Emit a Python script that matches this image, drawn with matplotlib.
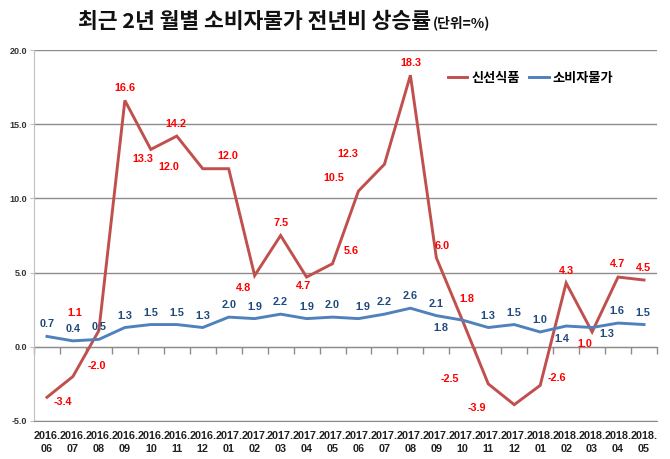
import matplotlib
matplotlib.use("Agg")
import matplotlib.pyplot as plt
import numpy as np

plt.rcParams['font.family'] = ['Noto Sans CJK KR', 'DejaVu Sans']

months = ["2016.\n06", "2016.\n07", "2016.\n08", "2016.\n09", "2016.\n10", "2016.\n11",
          "2016.\n12", "2017.\n01", "2017.\n02", "2017.\n03", "2017.\n04", "2017.\n05",
          "2017.\n06", "2017.\n07", "2017.\n08", "2017.\n09", "2017.\n10", "2017.\n11",
          "2017.\n12", "2018.\n01", "2018.\n02", "2018.\n03", "2018.\n04", "2018.\n05"]
fresh = [-3.4, -2.0, 1.1, 16.6, 13.3, 14.2, 12.0, 12.0, 4.8, 7.5, 4.7, 5.6,
         10.5, 12.3, 18.3, 6.0, 1.8, -2.5, -3.9, -2.6, 4.3, 1.0, 4.7, 4.5]
cpi = [0.7, 0.4, 0.5, 1.3, 1.5, 1.5, 1.3, 2.0, 1.9, 2.2, 1.9, 2.0,
       1.9, 2.2, 2.6, 2.1, 1.8, 1.3, 1.5, 1.0, 1.4, 1.3, 1.6, 1.5]
series_names = ["신선식품", "소비자물가"]
title_main = "최근 2년 월별 소비자물가 전년비 상승률"
title_unit = "(단위=%)"
yticks = [-5.0, 0.0, 5.0, 10.0, 15.0, 20.0]

# label offsets in pixels (dx right, dy down)
red_off = [(16, 5), (24, -10), (-24, -17), (0, -12), (-8, 10), (-1, -12), (-34, -2), (-1, -13),
           (-11, 12), (0, -13), (-3, 9), (19, -13), (-25, -13), (-37, -10), (0, -12), (6, -12),
           (5, -21), (-38, -5), (-37, 3), (17, -7), (0, -12), (-7, 12), (-1, -13), (-1, -12)]
blue_off = [(0, -12)] * 24
blue_off[12] = (4, -12)
blue_off[16] = (-21, 8)
blue_off[20] = (-4, 13)
blue_off[21] = (15, 6)
blue_off[22] = (-1, -12)
blue_off[23] = (-1, -12)

W, H = 670, 459
fig = plt.figure(figsize=(W / 100, H / 100), dpi=100)
ax = fig.add_axes([34 / W, 1 - 421 / H, (657 - 34) / W, (421 - 50) / H])

red = '#C0504D'
blue = '#4F81BD'
grid_c = '#8C8C8C'

x = np.arange(len(months))
ax.plot(x, fresh, color=red, lw=2.1, label=series_names[0], solid_joinstyle='miter', zorder=3)
ax.plot(x, cpi, color=blue, lw=2.1, label=series_names[1], zorder=3)

ax.set_xlim(-0.5, len(months) - 0.5)
ax.set_ylim(-5, 20)
ax.set_yticks(yticks)
ax.set_yticklabels([f"{v:.1f}" for v in yticks], fontsize=6.5, fontweight='bold',
                   color='#333333', family=['Liberation Sans', 'DejaVu Sans'])
ax.yaxis.grid(True, color=grid_c, lw=1.0, zorder=0)
ax.set_axisbelow(True)
ax.tick_params(axis='y', length=3, color='#BFBFBF', pad=2)

ax.set_xticks(x)
ax.set_xticklabels(months, fontsize=7.8, fontweight='bold', color='#222222',
                   family=['Liberation Sans', 'DejaVu Sans'], linespacing=1.45)
ax.tick_params(axis='x', length=0, pad=7)

for s in ['top', 'right']:
    ax.spines[s].set_visible(False)
ax.spines['left'].set_color('#BFBFBF')
ax.spines['bottom'].set_color(grid_c)

sec = ax.secondary_xaxis(0.2)
sec.set_xticks(np.arange(len(months) + 1) - 0.5)
sec.set_xticklabels([])
sec.tick_params(axis='x', length=5, color=grid_c, direction='out', width=1)
sec.spines['bottom'].set_color(grid_c)

px2pt = 0.72
for i, v in enumerate(fresh):
    dx, dy = red_off[i]
    ax.annotate(f"{v:.1f}", (x[i], v), xytext=(dx * px2pt, -dy * px2pt), textcoords='offset points',
                ha='center', va='center', fontsize=7.8, fontweight='bold', color='#FF0000',
                family=['Liberation Sans', 'DejaVu Sans'], zorder=4)
for i, v in enumerate(cpi):
    dx, dy = blue_off[i]
    ax.annotate(f"{v:.1f}", (x[i], v), xytext=(dx * px2pt, -dy * px2pt), textcoords='offset points',
                ha='center', va='center', fontsize=7.8, fontweight='bold', color='#1F497D',
                family=['Liberation Sans', 'DejaVu Sans'], zorder=4)

leg = ax.legend(loc='center left', bbox_to_anchor=(448 / W, 1 - 78 / H), bbox_transform=fig.transFigure,
                ncol=2, frameon=False, fontsize=9.5, handlelength=1.45, handletextpad=0.3,
                columnspacing=0.75, borderpad=0, borderaxespad=0)
for t in leg.get_texts():
    t.set_fontweight('bold')

t1 = fig.text(78 / W, 1 - 21 / H, title_main, fontsize=15.5, fontweight='black', ha='left', va='center',
              color='#111111')
fig.canvas.draw()
bb = t1.get_window_extent()
fig.text((bb.x1 + 2) / W, 1 - 23 / H, title_unit, fontsize=10, fontweight='bold', ha='left',
         va='center', color='#111111')

fig.savefig('out.png', dpi=100)
